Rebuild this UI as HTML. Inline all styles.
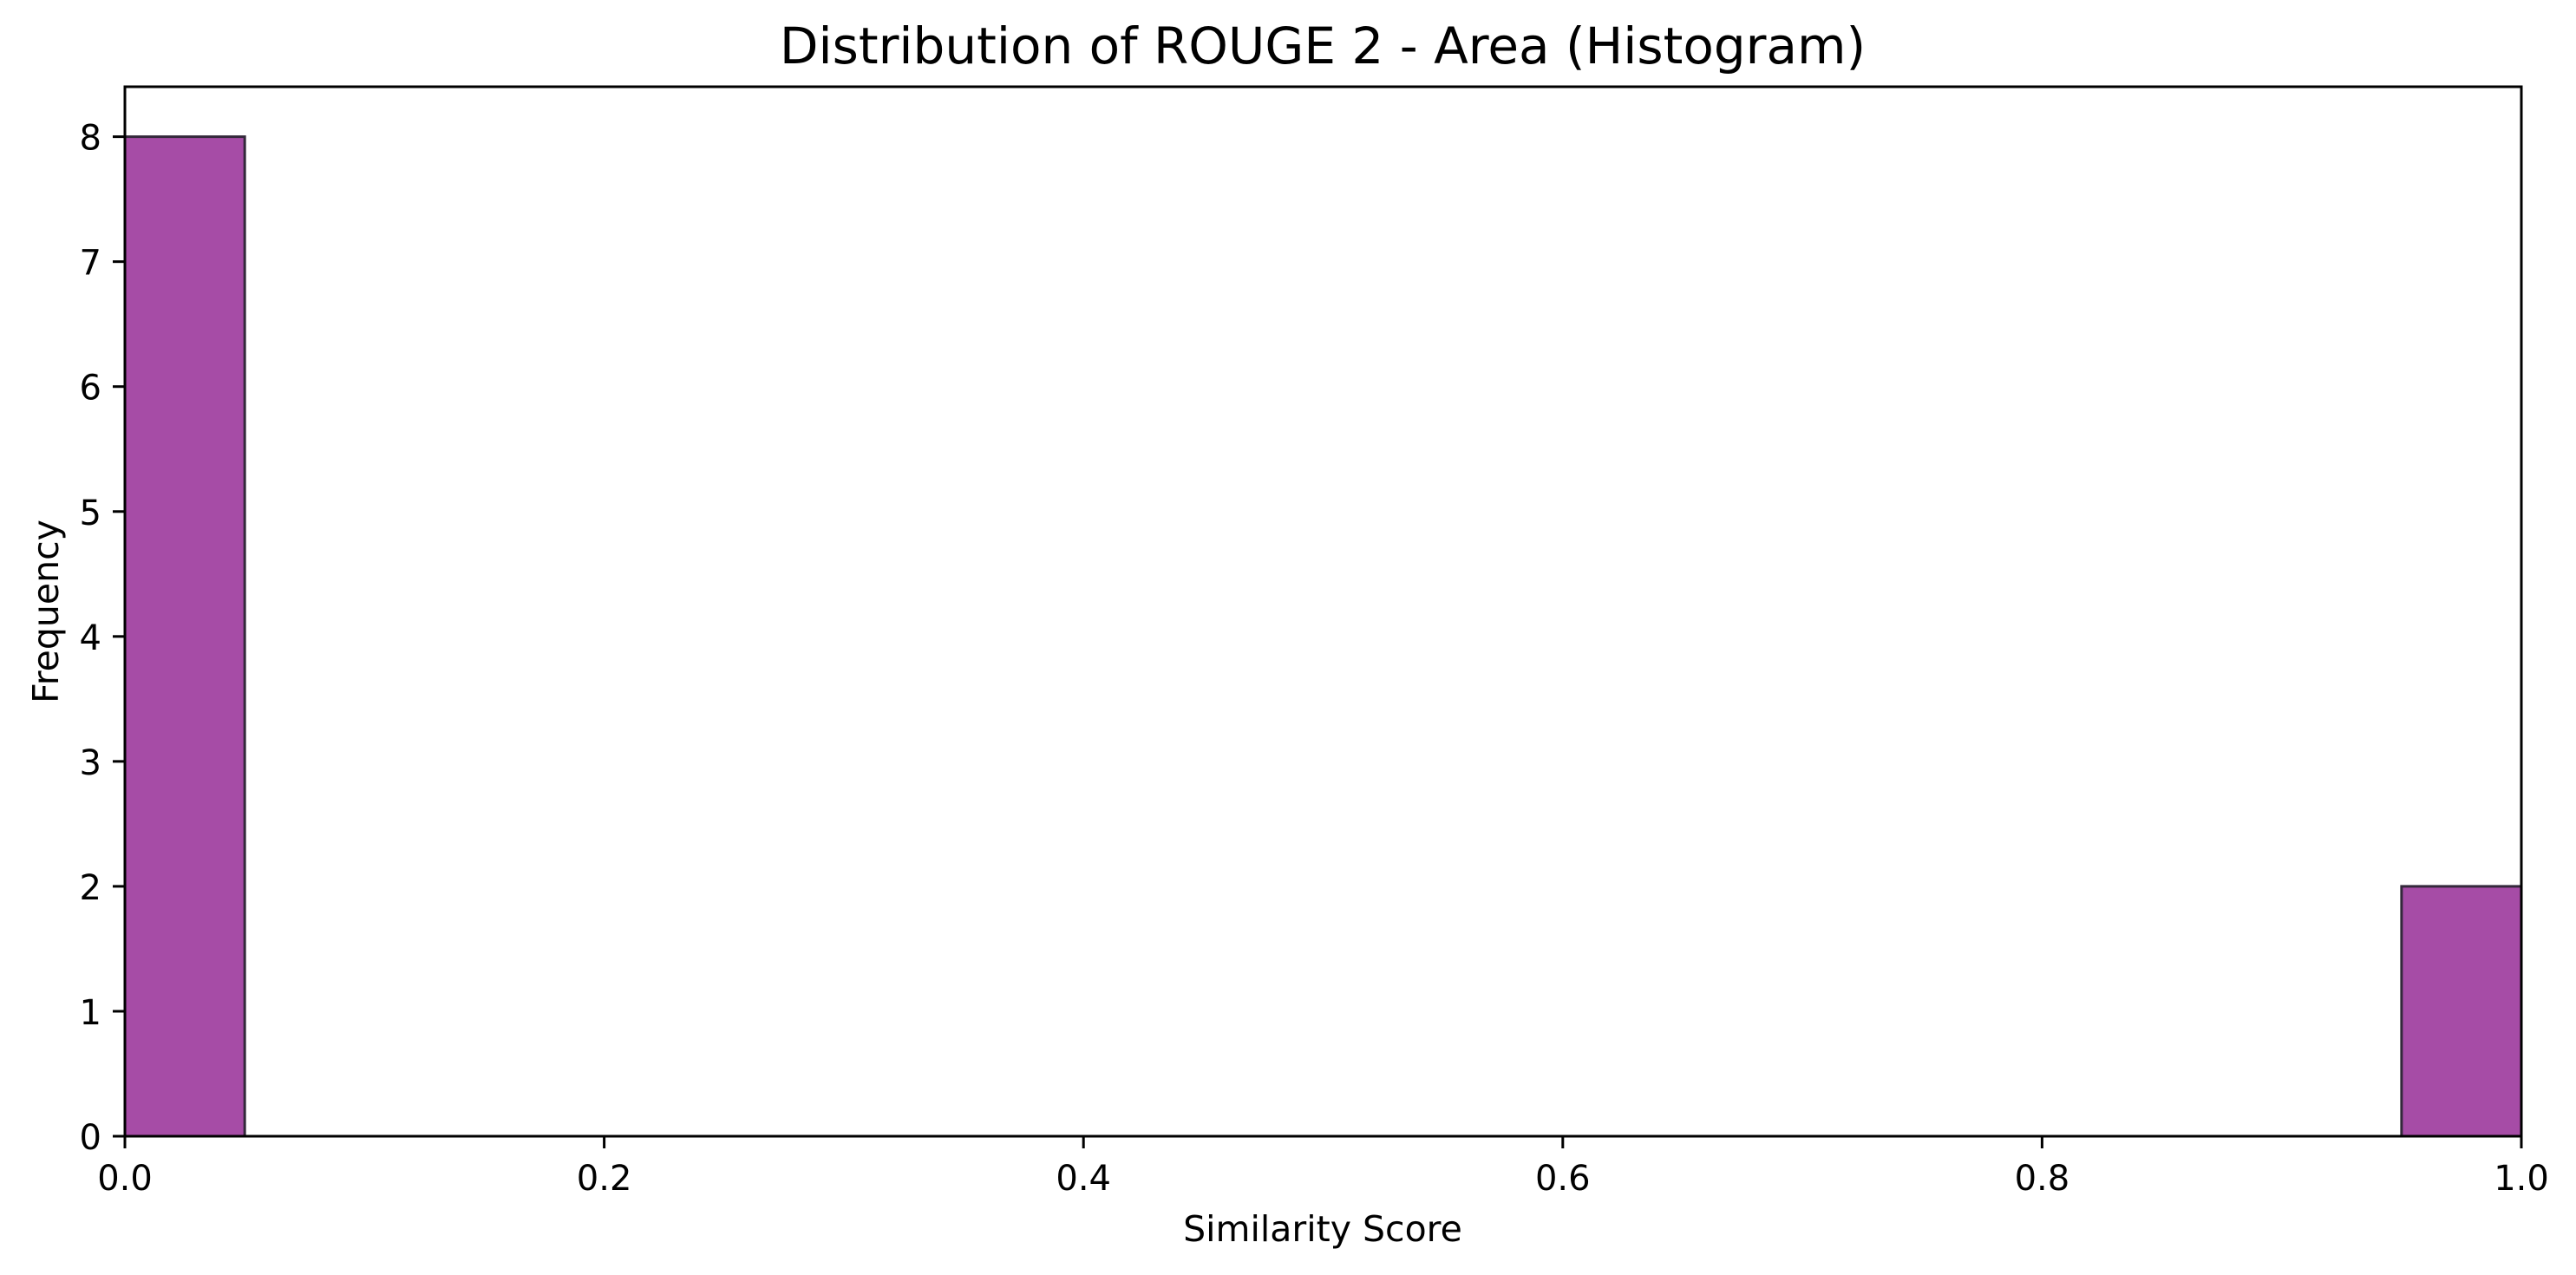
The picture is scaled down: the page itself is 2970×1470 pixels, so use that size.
<!DOCTYPE html>
<html><head><meta charset="utf-8"><style>
html,body{margin:0;padding:0;background:#fff;}
svg{display:block;font-family:"DejaVu Sans","Liberation Sans",sans-serif;}
</style></head><body>
<svg id="chart" width="2970" height="1470" viewBox="0 0 2970 1470" xmlns="http://www.w3.org/2000/svg">
<rect width="2970" height="1470" fill="#fff"/>
<text x="1525" y="73" font-size="58" text-anchor="middle" fill="#000">Distribution of ROUGE 2 - Area (Histogram)</text>
<g id="bars"></g>
<g id="axes"></g>
<text x="1525" y="1431" font-size="41" text-anchor="middle" fill="#000">Similarity Score</text>
<text x="0" y="0" font-size="41" text-anchor="middle" fill="#000" transform="translate(67,705) rotate(-90)">Frequency</text>
</svg>
<script>
const binEdgesStart = [0.0,0.05,0.1,0.15,0.2,0.25,0.3,0.35,0.4,0.45,0.5,0.55,0.6,0.65,0.7,0.75,0.8,0.85,0.9,0.95];
const binWidthValue = 0.05;
const counts = [8,0,0,0,0,0,0,0,0,0,0,0,0,0,0,0,0,0,0,2];
const xTicks = [0,0.2,0.4,0.6,0.8,1.0];
const xTickLabels = ["0.0","0.2","0.4","0.6","0.8","1.0"];
const yTicks = [0,1,2,3,4,5,6,7,8];
const yTickLabels = ["0","1","2","3","4","5","6","7","8"];

const L=144,R=2907,T=100,B=1310,XMIN=0,XMAX=1,YMIN=0,YMAX=8.4;
const NS="http://www.w3.org/2000/svg";
const xs=v=>L+(v-XMIN)/(XMAX-XMIN)*(R-L);
const ys=v=>B-(v-YMIN)/(YMAX-YMIN)*(B-T);
function mk(tag,attrs,parent){const e=document.createElementNS(NS,tag);for(const k in attrs)e.setAttribute(k,attrs[k]);parent.appendChild(e);return e;}
const bars=document.getElementById('bars'),axes=document.getElementById('axes');
counts.forEach((c,i)=>{
  if(c<=0)return;
  const x0=xs(binEdgesStart[i]),x1=xs(binEdgesStart[i]+binWidthValue);
  const r=mk('rect',{x:x0,y:ys(c),width:x1-x0,height:ys(0)-ys(c),fill:'#a64ca6',stroke:'#33283a','stroke-width':3},bars);
  
  
});
const frame=mk('rect',{x:L,y:T,width:R-L,height:B-T,fill:'none',stroke:'#000','stroke-width':3},axes);


xTicks.forEach((v,i)=>{
  const x=xs(v);
  const t=mk('line',{x1:x,x2:x,y1:B,y2:B+14,stroke:'#000','stroke-width':3},axes);
  
  
  const l=mk('text',{x:x,y:1372,'font-size':40,'text-anchor':'middle',fill:'#000'},axes);
  l.textContent=xTickLabels[i];
  
  
});
yTicks.forEach((v,i)=>{
  const y=ys(v);
  const t=mk('line',{x1:L-14,x2:L,y1:y,y2:y,stroke:'#000','stroke-width':3},axes);
  
  
  const l=mk('text',{x:117,y:y+15,'font-size':40,'text-anchor':'end',fill:'#000'},axes);
  l.textContent=yTickLabels[i];
  
  
});
</script>
</body></html>
